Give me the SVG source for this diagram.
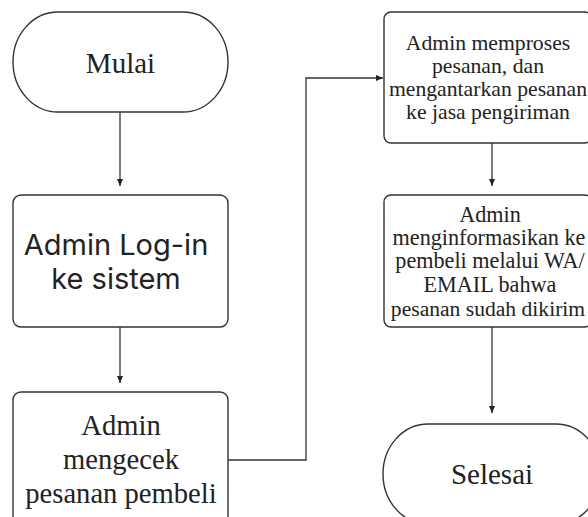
<svg xmlns="http://www.w3.org/2000/svg" width="588" height="517" viewBox="0 0 588 517">
<defs>
<marker id="ah" markerWidth="8" markerHeight="8" refX="7" refY="4" orient="auto" markerUnits="userSpaceOnUse">
<path d="M0,1 L7,4 L0,7 Z" fill="#222"/>
</marker>
<style>
.shape{fill:#fff;stroke:#333;stroke-width:1.4}
.con{fill:none;stroke:#333;stroke-width:1.3}
.serif{font-family:"Liberation Serif","Times New Roman",serif;fill:#222;text-anchor:middle}
.sans{font-family:Inter,"Liberation Sans",sans-serif;fill:#222;text-anchor:middle}
</style>
</defs>
<rect width="588" height="517" fill="#fff"/>
<g id="connectors">
<path class="con" d="M120,112 V186" marker-end="url(#ah)"/>
<path class="con" d="M120,327 V383" marker-end="url(#ah)"/>
<path class="con" d="M228,460 H306 V78 H383" marker-end="url(#ah)"/>
<path class="con" d="M492,143 V186" marker-end="url(#ah)"/>
<path class="con" d="M492,327 V413" marker-end="url(#ah)"/>
</g>
<g id="mulai">
<rect class="shape" x="13" y="12" width="215" height="100" rx="45" ry="50"/>
<text class="serif" x="120.5" y="73" font-size="29">Mulai</text>
</g>
<g id="login">
<rect class="shape" x="13" y="195" width="215" height="132" rx="8"/>
<text class="sans" x="116" y="255" font-size="29">Admin Log-in</text>
<text class="sans" x="116" y="289" font-size="29">ke sistem</text>
</g>
<g id="cek">
<rect class="shape" x="13" y="392" width="215" height="140" rx="8"/>
<text class="serif" x="121" y="435" font-size="28.6">Admin</text>
<text class="serif" x="121" y="469" font-size="28.6">mengecek</text>
<text class="serif" x="121" y="503" font-size="28.6">pesanan pembeli</text>
</g>
<g id="proses">
<rect class="shape" x="384" y="12" width="208" height="131" rx="7"/>
<text class="serif" x="488" y="50" font-size="21.7">Admin memproses</text>
<text class="serif" x="488" y="73" font-size="21.7">pesanan, dan</text>
<text class="serif" x="488" y="96" font-size="21.7">mengantarkan pesanan</text>
<text class="serif" x="488" y="119" font-size="21.7">ke jasa pengiriman</text>
</g>
<g id="informasi">
<rect class="shape" x="384" y="195" width="208" height="132" rx="7"/>
<text class="serif" x="490" y="222" font-size="22.2">Admin</text>
<text class="serif" x="489" y="245" font-size="22.2">menginformasikan ke</text>
<text class="serif" x="490" y="268" font-size="22.2">pembeli melalui WA/</text>
<text class="serif" x="490" y="292" font-size="22.2">EMAIL bahwa</text>
<text class="serif" x="488" y="316" font-size="21.6">pesanan sudah dikirim</text>
</g>
<g id="selesai">
<rect class="shape" x="383" y="424" width="218" height="100" rx="45" ry="50"/>
<text class="serif" x="492" y="484" font-size="29">Selesai</text>
</g>
</svg>
